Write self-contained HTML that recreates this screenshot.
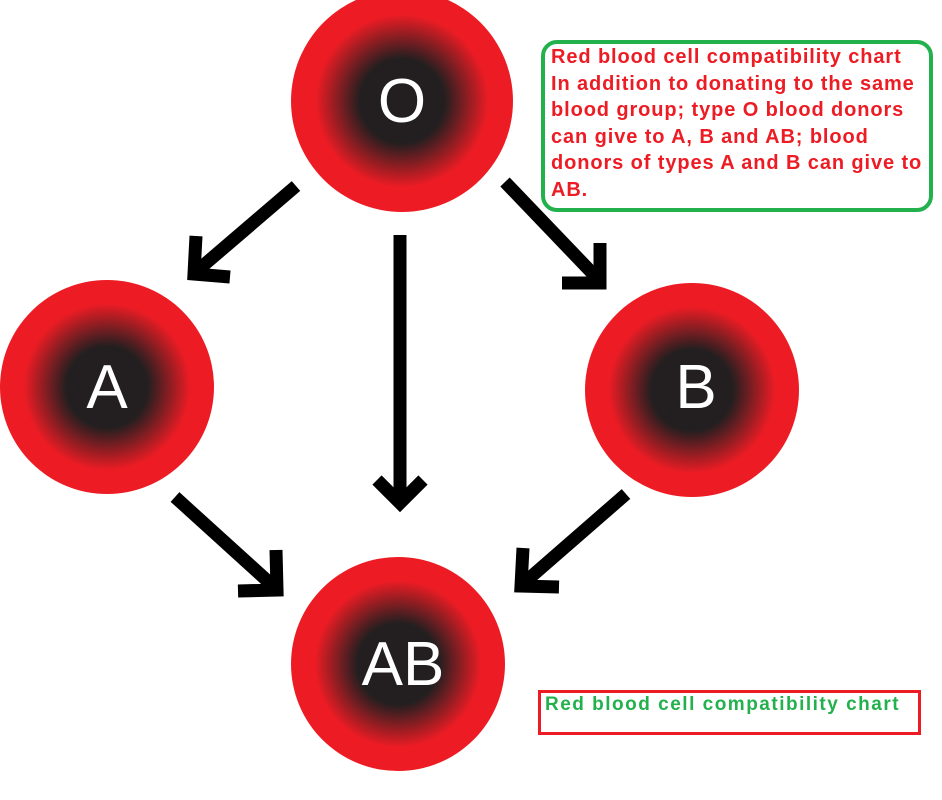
<!DOCTYPE html>
<html><head><meta charset="utf-8"><style>
body{margin:0;width:942px;height:800px;background:#fff;overflow:hidden;position:relative;font-family:"Liberation Sans",sans-serif}
.box{position:absolute;left:541px;top:40px;width:384px;height:164px;border:4px solid #22b14c;border-radius:16px;box-sizing:content-box}
.t{position:absolute;left:551px;top:44px;color:#ed1c24;font-weight:bold;font-size:20px;letter-spacing:0.9px;line-height:26.5px;white-space:pre}
.b2{position:absolute;left:538px;top:690px;width:377px;height:39px;border:3px solid #ed1c24}
.t2{position:absolute;left:545px;top:694px;color:#22b14c;font-weight:bold;font-size:19px;letter-spacing:1.5px;white-space:pre}
</style></head><body>
<svg width="942" height="800" style="position:absolute;left:0;top:0">
<defs><radialGradient id="g"><stop offset="0" stop-color="#231f20"/><stop offset="0.38" stop-color="#231f20"/><stop offset="0.78" stop-color="#ed1c24"/><stop offset="1" stop-color="#ed1c24"/></radialGradient></defs>
<circle cx="402" cy="101" r="111" fill="url(#g)"/>
<circle cx="107" cy="387" r="107" fill="url(#g)"/>
<circle cx="692" cy="390" r="107" fill="url(#g)"/>
<circle cx="398" cy="664" r="107" fill="url(#g)"/>
<g fill="#fff" font-family="Liberation Sans,sans-serif" font-size="62" text-anchor="middle">
<text x="402" y="122">O</text><text x="107" y="408">A</text><text x="696" y="408">B</text><text x="403" y="685">AB</text></g>
<g stroke="#000" stroke-width="13" fill="none" stroke-linecap="butt" stroke-linejoin="miter">
<line x1="296" y1="186" x2="198" y2="270"/><polyline points="196,236 194,274 230,277"/>
<line x1="400" y1="235" x2="400" y2="502"/><polyline points="377,480 400,503 423,480"/>
<line x1="505" y1="182" x2="596" y2="277"/><polyline points="600,243 600,283 562,283"/>
<line x1="175" y1="497" x2="272" y2="585"/><polyline points="276,550 277,590 238,591"/>
<line x1="626" y1="494" x2="525" y2="582"/><polyline points="523,548 521,586 559,587"/>
</g></svg>
<div class="box"></div>
<div class="t">Red blood cell compatibility chart
In addition to donating to the same
blood group; type O blood donors
can give to A, B and AB; blood
donors of types A and B can give to
AB.</div>
<div class="b2"></div>
<div class="t2">Red blood cell compatibility chart</div>
</body></html>
